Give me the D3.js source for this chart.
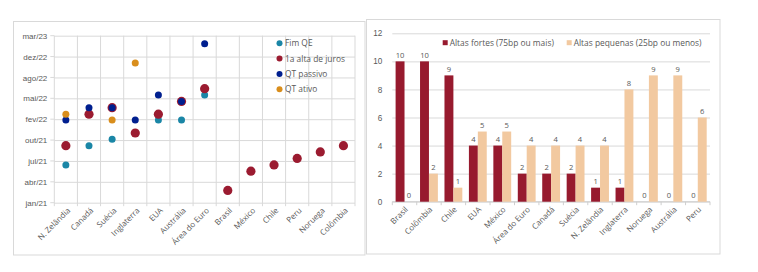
<!DOCTYPE html>
<html>
<head>
<meta charset="utf-8">
<script src="https://cdn.jsdelivr.net/npm/d3@7"></script>
<style>
  body { margin: 0; background: #fff; }
  svg { display: block; font-family: "Open Sans", "Noto Sans", sans-serif; }
  text { fill: #595959; }
</style>
</head>
<body>
<div id="chart"></div>
<script>
// ---- data: left chart (timing of policy moves) ----
const scatter_categories = ['N. Zelândia', 'Canadá', 'Suécia', 'Inglaterra', 'EUA', 'Austrália', 'Área do Euro',
  'Brasil', 'México', 'Chile', 'Peru', 'Noruega', 'Colômbia'];

const fim_qe = [['N. Zelândia', '2021-07-01'], ['Canadá', '2021-10-01'], ['Suécia', '2021-11-01'],
  ['Inglaterra', '2021-12-01'], ['EUA', '2022-02-01'], ['Austrália', '2022-02-01'], ['Área do Euro', '2022-06-01']];
const alta_juros = [['N. Zelândia', '2021-10-01'], ['Canadá', '2022-03-01'], ['Suécia', '2022-04-01'],
  ['Inglaterra', '2021-12-01'], ['EUA', '2022-03-01'], ['Austrália', '2022-05-01'], ['Área do Euro', '2022-07-01'],
  ['Brasil', '2021-03-01'], ['México', '2021-06-01'], ['Chile', '2021-07-01'], ['Peru', '2021-08-01'],
  ['Noruega', '2021-09-01'], ['Colômbia', '2021-10-01']];
const qt_passivo = [['N. Zelândia', '2022-02-01'], ['Canadá', '2022-04-01'], ['Suécia', '2022-04-01'],
  ['Inglaterra', '2022-02-01'], ['EUA', '2022-06-01'], ['Austrália', '2022-05-01'], ['Área do Euro', '2023-02-01']];
const qt_ativo = [['N. Zelândia', '2022-03-01'], ['Suécia', '2022-02-01'], ['Inglaterra', '2022-11-01']];

const scatter_series = ['Fim QE', '1a alta de juros', 'QT passivo', 'QT ativo'];
const scatter_colors = ['#1a86a6', '#9b1b30', '#001f8f', '#d98e1c'];

// y axis: excel style date axis, first tick jan/21, one tick every 100 days
const y_start = '2021-01-01';
const y_step_days = 100;
const y_tick_count = 9;
const month_names = ['jan', 'fev', 'mar', 'abr', 'mai', 'jun', 'jul', 'ago', 'set', 'out', 'nov', 'dez'];

// ---- data: right chart (number of hikes) ----
const bar_categories = ['Brasil', 'Colômbia', 'Chile', 'EUA', 'México', 'Área do Euro', 'Canadá', 'Suécia',
  'N. Zelândia', 'Inglaterra', 'Noruega', 'Austrália', 'Peru'];
const altas_fortes = [10, 10, 9, 4, 4, 2, 2, 2, 1, 1, 0, 0, 0];
const altas_pequenas = [0, 2, 1, 5, 5, 4, 4, 4, 4, 8, 9, 9, 6];
const bar_series = ['Altas fortes (75bp ou mais)', 'Altas pequenas (25bp ou menos)'];
const bar_colors = ['#971a2e', '#f2c9a0'];
const bar_y_ticks = [0, 2, 4, 6, 8, 10, 12];

const width = 758;
const height = 272;
const grid_color = '#d9d9d9';

const parseDate = d3.utcParse('%Y-%m-%d');
const fmtDate = d => month_names[d.getUTCMonth()] + '/' + String(d.getUTCFullYear()).slice(2);

var svg = d3.select('#chart').append('svg')
  .attr('width', width)
  .attr('height', height);

// ================= left panel =================
let left = svg.append('g');
left.append('rect')
  .attr('x', 13.5).attr('y', 21.5)
  .attr('width', 351.5).attr('height', 233.5)
  .attr('fill', '#fff').attr('stroke', grid_color);

let x_left = d3.scaleBand()
  .domain(scatter_categories)
  .range([54.3, 355]);

let y_ticks = d3.range(y_tick_count).map(i => d3.utcDay.offset(parseDate(y_start), i * y_step_days));
let y_left = d3.scaleUtc()
  .domain([y_ticks[0], y_ticks[y_ticks.length - 1]])
  .range([202.7, 35.7]);

// horizontal gridlines + labels
left.append('g')
  .attr('transform', 'translate(54.3,0)')
  .call(d3.axisLeft(y_left).tickValues(y_ticks).tickFormat(fmtDate)
    .tickSize(-(355 - 54.3)).tickPadding(7))
  .call(g => g.select('.domain').remove())
  .call(g => g.selectAll('line').attr('stroke', grid_color))
  .call(g => g.selectAll('text').attr('font-size', '8px').attr('fill', '#595959'));
// small outer ticks on the y axis
left.append('g').selectAll('line')
  .data(y_ticks)
  .enter().append('line')
  .attr('x1', 50.3).attr('x2', 54.3)
  .attr('y1', d => y_left(d)).attr('y2', d => y_left(d))
  .attr('stroke', grid_color);

// vertical gridlines at the category boundaries
let boundaries = scatter_categories.map(c => x_left(c)).concat([x_left.range()[1]]);
left.append('g').selectAll('line')
  .data(boundaries)
  .enter().append('line')
  .attr('x1', d => d).attr('x2', d => d)
  .attr('y1', 35.7).attr('y2', 206.2)
  .attr('stroke', grid_color);

// x labels
left.append('g').selectAll('text')
  .data(scatter_categories)
  .enter().append('text')
  .attr('transform', d => `translate(${x_left(d) + x_left.bandwidth() / 2 + 3},${209})rotate(-45)`)
  .attr('text-anchor', 'end')
  .attr('dy', '0.35em')
  .attr('font-size', '8px')
  .text(d => d);

// points, drawn in series order
let series_data = [fim_qe, alta_juros, qt_passivo, qt_ativo];
series_data.forEach(function (s, i) {
  left.append('g').selectAll('circle')
    .data(s)
    .enter().append('circle')
    .attr('cx', d => x_left(d[0]) + x_left.bandwidth() / 2)
    .attr('cy', d => y_left(parseDate(d[1])))
    .attr('r', i === 1 ? 4.6 : 3.5)
    .attr('fill', scatter_colors[i]);
});

// legend
let leg_left = left.append('g').attr('transform', 'translate(279.5,43.3)');
scatter_series.forEach(function (name, i) {
  let row = leg_left.append('g').attr('transform', `translate(0,${i * 15.3})`);
  row.append('circle').attr('r', 3).attr('fill', scatter_colors[i]);
  row.append('text')
    .attr('x', 5.5).attr('dy', '0.35em')
    .attr('font-size', '8.4px')
    .text(name);
});

// ================= right panel =================
let right = svg.append('g');
right.append('rect')
  .attr('x', 366.5).attr('y', 19.5)
  .attr('width', 353.5).attr('height', 234.5)
  .attr('fill', '#fff').attr('stroke', grid_color);

let x_right = d3.scaleBand()
  .domain(bar_categories)
  .range([392.3, 710]);

let x_inner = d3.scaleBand()
  .domain(bar_series)
  .range([0, x_right.bandwidth()])
  .paddingOuter(0.37);

let y_right = d3.scaleLinear()
  .domain([0, 12])
  .range([201.7, 33.3]);

right.append('g')
  .attr('transform', 'translate(392.3,0)')
  .call(d3.axisLeft(y_right).tickValues(bar_y_ticks).tickSize(-(710 - 392.3)).tickPadding(10))
  .call(g => g.select('.domain').remove())
  .call(g => g.selectAll('line').attr('stroke', grid_color))
  .call(g => g.selectAll('text').attr('font-size', '8.2px').attr('fill', '#595959'));

// x axis line and ticks
let bar_bounds = bar_categories.map(c => x_right(c)).concat([x_right.range()[1]]);
right.append('line')
  .attr('x1', 392.3).attr('x2', 710)
  .attr('y1', y_right(0)).attr('y2', y_right(0))
  .attr('stroke', '#cfcfcf');
right.append('g').selectAll('line')
  .data(bar_bounds)
  .enter().append('line')
  .attr('x1', d => d).attr('x2', d => d)
  .attr('y1', y_right(0)).attr('y2', y_right(0) + 3.5)
  .attr('stroke', '#cfcfcf');

let bar_values = [altas_fortes, altas_pequenas];
let groups = right.append('g').selectAll('g')
  .data(bar_categories)
  .enter().append('g')
  .attr('transform', d => `translate(${x_right(d)},0)`);

bar_series.forEach(function (s, si) {
  groups.append('rect')
    .attr('x', x_inner(s))
    .attr('width', x_inner.bandwidth())
    .attr('y', (d, i) => y_right(bar_values[si][i]))
    .attr('height', (d, i) => y_right(0) - y_right(bar_values[si][i]))
    .attr('fill', bar_colors[si]);
  groups.append('text')
    .attr('x', x_inner(s) + x_inner.bandwidth() / 2)
    .attr('y', (d, i) => y_right(bar_values[si][i]) - 3.5)
    .attr('text-anchor', 'middle')
    .attr('font-size', '7.6px')
    .text((d, i) => bar_values[si][i]);
});

right.append('g').selectAll('text')
  .data(bar_categories)
  .enter().append('text')
  .attr('transform', d => `translate(${x_right(d) + x_right.bandwidth() / 2 + 2},${208})rotate(-45)`)
  .attr('text-anchor', 'end')
  .attr('dy', '0.35em')
  .attr('font-size', '8px')
  .text(d => d);

// legend
let leg_right = right.append('g').attr('transform', 'translate(442.7,42.7)');
let leg_x = [0, 124];
bar_series.forEach(function (name, i) {
  let item = leg_right.append('g').attr('transform', `translate(${leg_x[i]},0)`);
  item.append('rect').attr('x', 0).attr('y', -2.5).attr('width', 5).attr('height', 5).attr('fill', bar_colors[i]);
  item.append('text').attr('x', 7).attr('dy', '0.35em').attr('font-size', '8.4px').text(name);
});
</script>
</body>
</html>
